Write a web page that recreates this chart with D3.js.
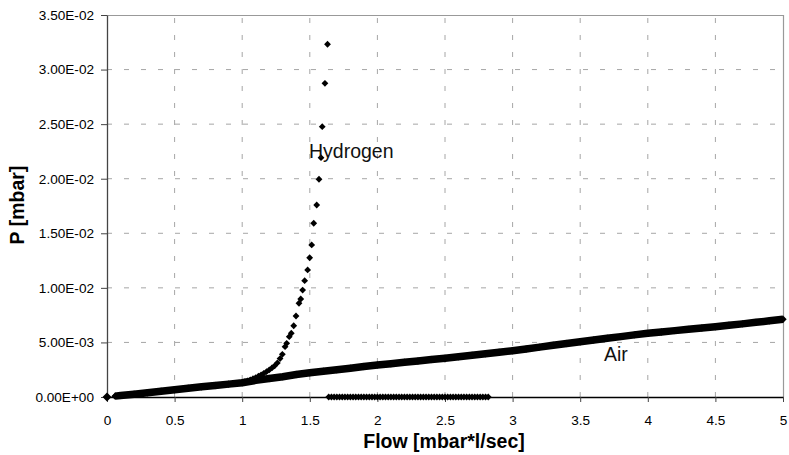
<!DOCTYPE html>
<html><head><meta charset="utf-8">
<script src="https://cdn.jsdelivr.net/npm/d3@7"></script>
<style>
body{margin:0;background:#fff}
svg{display:block}
text{font-family:"Liberation Sans",Arial,sans-serif}
.tk text{font-size:13.6px;fill:#000;font-family:"Liberation Sans",Arial,sans-serif}
</style>
</head><body>
<svg id="chart" width="789" height="455"></svg>
<script>
// ---------- data ----------
const xTicks = [0,0.5,1,1.5,2,2.5,3,3.5,4,4.5,5];
const xTickLabels = ["0","0.5","1","1.5","2","2.5","3","3.5","4","4.5","5"];
const yTicks = [0,0.005,0.01,0.015,0.02,0.025,0.03,0.035];
const yTickLabels = ["0.00E+00","5.00E-03","1.00E-02","1.50E-02","2.00E-02","2.50E-02","3.00E-02","3.50E-02"];

const airFlow = [0,0.06,0.1,0.2,0.3,0.4,0.5,0.6,0.7,0.8,0.9,1.0,1.1,1.2,1.3,1.4,1.5,1.6,1.7,1.8,1.9,2.0,
  2.1,2.2,2.3,2.4,2.5,2.6,2.7,2.8,2.9,3.0,3.1,3.2,3.3,3.4,3.5,3.6,3.7,3.8,3.9,4.0,4.1,4.2,4.3,4.4,4.5,4.6,4.7,4.8,4.9,5.0];
const airP = [0,0.00008,0.00013,0.00026,0.00039,0.00053,0.00067,0.0008,0.00093,0.00105,0.00118,0.00131,0.00152,0.0017,0.00186,0.00206,0.00222,0.00236,0.0025,0.00264,0.00279,0.00293,
  0.00305,0.00318,0.0033,0.00343,0.00355,0.00369,0.00382,0.00396,0.0041,0.00424,0.0044,0.00457,0.00474,0.0049,0.00507,0.00522,0.00538,0.00553,0.00569,0.00584,0.00596,0.00608,0.0062,0.00632,0.00644,0.00657,0.0067,0.00684,0.00698,0.00712];

const hydrogenFlow = [0,0.06,0.1,0.2,0.3,0.4,0.5,0.6,0.7,0.8,0.9,1.0,1.02,1.04,1.06,1.08,1.10,1.12,1.14,1.16,1.18,1.20,1.22,1.24,1.26,1.28,
  1.297,1.317,1.329,1.348,1.363,1.381,1.398,1.420,1.433,1.447,1.462,1.484,1.499,1.514,1.529,1.551,1.568,1.583,1.592,1.612,1.631];
const hydrogenP = [0,0.00008,0.00013,0.00026,0.00039,0.00053,0.00067,0.0008,0.00093,0.00105,0.00118,0.00132,0.0014,0.00148,0.00157,0.00167,0.00178,0.0019,0.00203,0.00217,0.00232,0.00248,0.00266,0.00286,0.00312,0.00352,
  0.00391,0.00461,0.00492,0.00553,0.00584,0.00653,0.00742,0.00859,0.00898,0.0098,0.01066,0.01164,0.01276,0.01393,0.01592,0.01759,0.01995,0.02193,0.02477,0.02874,0.03232];

// hydrogen readings beyond range, recorded as zero pressure
const hydrogenZeroFlow = [1.64,1.66,1.68,1.70,1.72,1.74,1.76,1.78,1.80,1.82,1.84,1.86,1.88,1.90,1.92,1.94,1.96,1.98,2.00,
  2.02,2.04,2.06,2.08,2.10,2.12,2.14,2.16,2.18,2.20,2.22,2.24,2.26,2.28,2.30,2.32,2.34,2.36,2.38,2.40,
  2.42,2.44,2.46,2.48,2.50,2.52,2.54,2.56,2.58,2.60,2.62,2.64,2.66,2.68,2.70,2.72,2.74,2.76,2.78,2.80,2.82];
const hydrogenZeroP = hydrogenZeroFlow.map(() => 0);

const seriesLabels = ["Hydrogen","Air"];
const xTitle = "Flow [mbar*l/sec]";
const yTitle = "P [mbar]";

// ---------- layout ----------
const W = 789, H = 455;
const m = {left:107, right:6, top:15, bottom:58};
const svg = d3.select("#chart");
const x = d3.scaleLinear().domain([0,5]).range([m.left, W - m.right]);
const y = d3.scaleLinear().domain([0,0.035]).range([H - m.bottom, m.top]);

const gridColor = "#a6a6a6";
// grid
svg.append("g").selectAll("line").data(xTicks.slice(1, -1)).join("line")
  .attr("x1", d => x(d)).attr("x2", d => x(d))
  .attr("y1", y(0)).attr("y2", y(0.035))
  .attr("stroke", gridColor).attr("stroke-dasharray", "5,12");
svg.append("g").selectAll("line").data(yTicks.slice(1, -1)).join("line")
  .attr("y1", d => y(d)).attr("y2", d => y(d))
  .attr("x1", x(0)).attr("x2", x(5))
  .attr("stroke", gridColor).attr("stroke-dasharray", "5,12");
// top and right frame
svg.append("path")
  .attr("d", `M${x(0)},${y(0.035)+0.5}H${x(5)+0.5}V${y(0)}`)
  .attr("fill","none").attr("stroke","#999").attr("stroke-width",1.2);

// axes
const yAxis = svg.append("g").attr("class","tk").attr("transform", `translate(${x(0)},0)`)
  .call(d3.axisLeft(y).tickValues(yTicks).tickFormat((d,i) => yTickLabels[i]).tickSize(6).tickSizeOuter(0).tickPadding(7));
yAxis.attr("font-size", null).attr("font-family", null);
yAxis.select(".domain").attr("stroke","#444").attr("stroke-width",1.3);
yAxis.selectAll(".tick line").attr("stroke","#444");

const xAxis = svg.append("g").attr("class","tk").attr("transform", `translate(0,${y(0)})`)
  .call(d3.axisBottom(x).tickValues(xTicks).tickFormat((d,i) => xTickLabels[i]).tickSize(5).tickSizeOuter(0).tickPadding(13));
xAxis.attr("font-size", null).attr("font-family", null);
xAxis.select(".domain").attr("stroke","#000").attr("stroke-width",1.3);
xAxis.selectAll(".tick line").attr("stroke","#444");

// titles
svg.append("text").attr("x", 444).attr("y", 448).attr("text-anchor","middle")
  .style("font-size","19.5px").attr("font-weight","bold").text(xTitle);
svg.append("text").attr("transform", `translate(24,205) rotate(-90)`).attr("text-anchor","middle")
  .style("font-size","19.5px").attr("font-weight","bold").text(yTitle);

// series
const diamond = r => `M0,${-r}L${r},0L0,${r}L${-r},0Z`;
const air = airFlow.map((f,i) => ({f, p: airP[i]}));
const hyd = hydrogenFlow.map((f,i) => ({f, p: hydrogenP[i]}))
  .concat(hydrogenZeroFlow.map((f,i) => ({f, p: hydrogenZeroP[i]})));

// air: dense markers form a continuous band
svg.append("path").datum(air.slice(1))
  .attr("d", d3.line().x(d => x(d.f)).y(d => y(d.p)))
  .attr("fill","none").attr("stroke","#000").attr("stroke-width",7.5);
svg.append("g").selectAll("path").data(air).join("path")
  .attr("transform", d => `translate(${x(d.f)},${y(d.p)})`)
  .attr("d", d => diamond(d.f === 0 ? 4.5 : 3.7)).attr("fill","#000");
svg.append("g").selectAll("path").data(hyd).join("path")
  .attr("transform", d => `translate(${x(d.f)},${y(d.p)})`)
  .attr("d", diamond(3.4)).attr("fill","#000");

// series labels
svg.append("text").attr("x", 309).attr("y", 158).style("font-size","19.5px").attr("fill","#111").text(seriesLabels[0]);
svg.append("text").attr("x", 604).attr("y", 361).style("font-size","19.5px").attr("fill","#111").text(seriesLabels[1]);
</script>
</body></html>
